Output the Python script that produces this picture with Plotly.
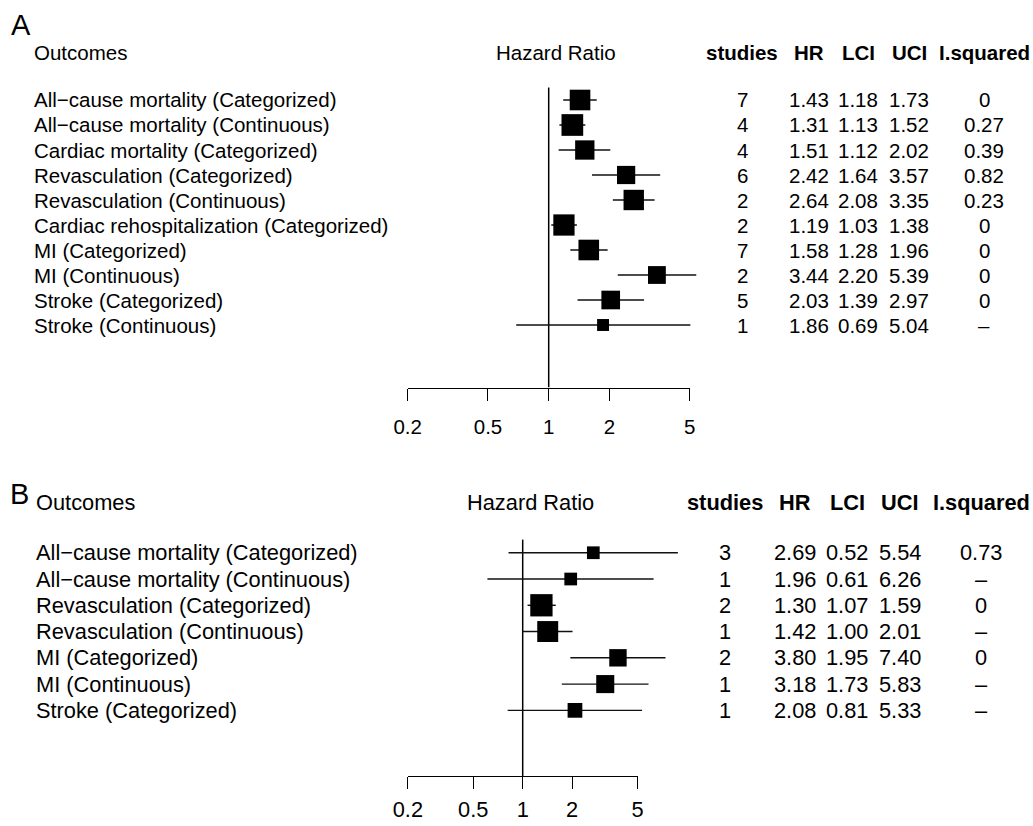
import math
import plotly.graph_objects as go

W, H = 1033, 826
FONT = "Liberation Sans, Arial, Helvetica, sans-serif"

# ---------------- Panel A data ----------------
outcomes_a = ["All−cause mortality (Categorized)", "All−cause mortality (Continuous)",
              "Cardiac mortality (Categorized)", "Revasculation (Categorized)",
              "Revasculation (Continuous)", "Cardiac rehospitalization (Categorized)",
              "MI (Categorized)", "MI (Continuous)", "Stroke (Categorized)",
              "Stroke (Continuous)"]
studies_a = [7, 4, 4, 6, 2, 2, 7, 2, 5, 1]
hr_a = [1.43, 1.31, 1.51, 2.42, 2.64, 1.19, 1.58, 3.44, 2.03, 1.86]
lci_a = [1.18, 1.13, 1.12, 1.64, 2.08, 1.03, 1.28, 2.20, 1.39, 0.69]
uci_a = [1.73, 1.52, 2.02, 3.57, 3.35, 1.38, 1.96, 5.39, 2.97, 5.04]
i2_a = [0, 0.27, 0.39, 0.82, 0.23, 0, 0, 0, 0, None]
weight_a = [0.95, 1.0, 0.89, 0.84, 0.94, 0.98, 0.95, 0.82, 0.86, 0.55]

# ---------------- Panel B data ----------------
outcomes_b = ["All−cause mortality (Categorized)", "All−cause mortality (Continuous)",
              "Revasculation (Categorized)", "Revasculation (Continuous)",
              "MI (Categorized)", "MI (Continuous)", "Stroke (Categorized)"]
studies_b = [3, 1, 2, 1, 2, 1, 1]
hr_b = [2.69, 1.96, 1.30, 1.42, 3.80, 3.18, 2.08]
lci_b = [0.52, 0.61, 1.07, 1.00, 1.95, 1.73, 0.81]
uci_b = [5.54, 6.26, 1.59, 2.01, 7.40, 5.83, 5.33]
i2_b = [0.73, None, 0, None, 0, None, None]
# interval as drawn in the graph column (first row drawn wider than its table values)
lci_drawn_b = [0.82, 0.61, 1.07, 1.00, 1.95, 1.73, 0.81]
uci_drawn_b = [8.80, 6.26, 1.59, 2.01, 7.40, 5.83, 5.33]
weight_b = [0.57, 0.57, 1.0, 0.94, 0.78, 0.81, 0.66]

tick_vals = [0.2, 0.5, 1, 2, 5]
tick_text = ["0.2", "0.5", "1", "2", "5"]
headers = ["studies", "HR", "LCI", "UCI", "I.squared"]

# ---------------- layout geometry (pixels) ----------------
panels = [
    dict(name="A", out=outcomes_a, st=studies_a, hr=hr_a, lo=lci_a, hi=uci_a, i2=i2_a,
         dlo=lci_a, dhi=uci_a, wt=weight_a,
         row0=50.0, rowh=25.0, bottom_idx=13.5, x1=548.7, dec=201.7, fs=20.5,
         maxbox=21.7, label_x=32, letter=(9, 25), hz_x=555.5, head_dy=0.1,
         standoff=9, cols=[742, 808.5, 858.3, 909.2, 984]),
    dict(name="B", out=outcomes_b, st=studies_b, hr=hr_b, lo=lci_b, hi=uci_b, i2=i2_b,
         dlo=lci_drawn_b, dhi=uci_drawn_b, wt=weight_b,
         row0=500.2, rowh=26.27, bottom_idx=10.5, x1=522.7, dec=164.3, fs=21.8,
         maxbox=22.3, label_x=34, letter=(8, 494), hz_x=530, head_dy=0.08,
         standoff=2, cols=[725, 794.7, 847, 899.7, 981]),
]

fig = go.Figure()
annotations = []
layout_axes = {}


def px_x(p):
    return p / W


def px_y(p):
    return 1 - p / H


def fmt_i2(v):
    return "–" if v is None else f"{v:g}"


for k, P in enumerate(panels):
    xa = 2 * k + 1          # data subplot axis number
    xb = 2 * k + 2          # axis-only subplot number
    xname = "x" if xa == 1 else f"x{xa}"
    yname = "y" if xa == 1 else f"y{xa}"
    xname2, yname2 = f"x{xb}", f"y{xb}"
    lx = "xaxis" if xa == 1 else f"xaxis{xa}"
    ly = "yaxis" if xa == 1 else f"yaxis{xa}"

    n = len(P["hr"])
    rows = [2 + i for i in range(n)]
    bottom_px = P["row0"] + P["rowh"] * P["bottom_idx"]
    top_idx = -1.0
    top_px = P["row0"] + P["rowh"] * top_idx

    # data subplot spans wider than the drawn axis so long CIs are not clipped
    dl, dr = 380.0, 720.0
    rng = [(dl - P["x1"]) / P["dec"], (dr - P["x1"]) / P["dec"]]
    layout_axes[lx] = dict(type="log", range=rng, domain=[px_x(dl), px_x(dr)],
                           visible=False, anchor=yname, fixedrange=True,
                           automargin=False)
    layout_axes[ly] = dict(range=[P["bottom_idx"], top_idx],
                           domain=[px_y(bottom_px), px_y(top_px)],
                           visible=False, anchor=xname, fixedrange=True,
                           automargin=False)

    # axis-only subplot from 0.2 to 5
    a_l = P["x1"] + P["dec"] * math.log10(0.2)
    a_r = P["x1"] + P["dec"] * math.log10(5)
    layout_axes["xaxis" + str(xb)] = dict(
        type="log", range=[math.log10(0.2), math.log10(5)],
        domain=[px_x(a_l), px_x(a_r)], anchor=yname2, side="bottom",
        showline=True, linecolor="black", linewidth=1.3, ticks="outside",
        ticklen=12, tickwidth=1.3, tickcolor="black", tickvals=tick_vals,
        ticktext=tick_text, showgrid=False, zeroline=False, automargin=False,
        tickfont=dict(family=FONT, size=P["fs"], color="black"),
        ticklabelstandoff=P["standoff"], fixedrange=True)
    layout_axes["yaxis" + str(xb)] = dict(
        domain=[px_y(bottom_px), px_y(bottom_px - 6)], visible=False,
        anchor=xname2, range=[0, 1], fixedrange=True, automargin=False)
    fig.add_trace(go.Scatter(x=[1], y=[0.5], mode="markers", marker=dict(opacity=0),
                             xaxis=xname2, yaxis=yname2, showlegend=False,
                             hoverinfo="skip"))

    # vertical reference line at HR = 1
    fig.add_trace(go.Scatter(x=[1, 1], y=[1.5, P["bottom_idx"]], mode="lines",
                             line=dict(color="black", width=1.5),
                             xaxis=xname, yaxis=yname, showlegend=False,
                             hoverinfo="skip"))
    # confidence intervals
    cx, cy = [], []
    for lo, hi, r in zip(P["dlo"], P["dhi"], rows):
        cx += [lo, hi, None]
        cy += [r, r, None]
    fig.add_trace(go.Scatter(x=cx, y=cy, mode="lines",
                             line=dict(color="#111", width=1.4),
                             xaxis=xname, yaxis=yname, showlegend=False,
                             hoverinfo="skip"))
    # point estimates
    fig.add_trace(go.Scatter(x=P["hr"], y=rows, mode="markers",
                             marker=dict(symbol="square", color="black", opacity=1,
                                         size=[w * P["maxbox"] for w in P["wt"]],
                                         line=dict(width=0)),
                             xaxis=xname, yaxis=yname, showlegend=False,
                             cliponaxis=False))

    fs = P["fs"]
    base = dict(showarrow=False, xref="paper", yref=yname, yanchor="middle")
    hy = P["head_dy"]

    # panel letter
    annotations.append(dict(text=P["name"], x=px_x(P["letter"][0]),
                            y=px_y(P["letter"][1]), xref="paper", yref="paper",
                            xanchor="left", yanchor="middle", showarrow=False,
                            font=dict(family=FONT, size=29, color="black")))
    # headers
    annotations.append(dict(base, text="Outcomes", x=px_x(P["label_x"]), y=hy,
                            xanchor="left",
                            font=dict(family=FONT, size=fs, color="black")))
    annotations.append(dict(base, text="Hazard Ratio", x=px_x(P["hz_x"]), y=hy,
                            xanchor="center",
                            font=dict(family=FONT, size=fs, color="black")))
    for h, cxp in zip(headers, P["cols"]):
        annotations.append(dict(base, text=f"<b>{h}</b>", x=px_x(cxp), y=hy,
                                xanchor="center",
                                font=dict(family=FONT, size=fs, color="black")))
    # rows
    for i in range(n):
        r = rows[i]
        annotations.append(dict(base, text=P["out"][i], x=px_x(P["label_x"]), y=r,
                                xanchor="left",
                                font=dict(family=FONT, size=fs, color="black")))
        vals = [str(P["st"][i]), f"{P['hr'][i]:.2f}", f"{P['lo'][i]:.2f}",
                f"{P['hi'][i]:.2f}", fmt_i2(P["i2"][i])]
        for v, cxp in zip(vals, P["cols"]):
            annotations.append(dict(base, text=v, x=px_x(cxp), y=r, xanchor="center",
                                    font=dict(family=FONT, size=fs, color="black")))

fig.update_layout(
    template="none",
    width=W, height=H, margin=dict(l=0, r=0, t=0, b=0, pad=0, autoexpand=False),
    paper_bgcolor="white", plot_bgcolor="rgba(0,0,0,0)",
    showlegend=False, annotations=annotations,
    font=dict(family=FONT, color="black"),
    **layout_axes,
)

fig.write_html(
    "out.html",
    config={"displayModeBar": False, "staticPlot": False},
    post_script="document.body.style.margin='0';document.body.style.overflow='hidden';",
)
